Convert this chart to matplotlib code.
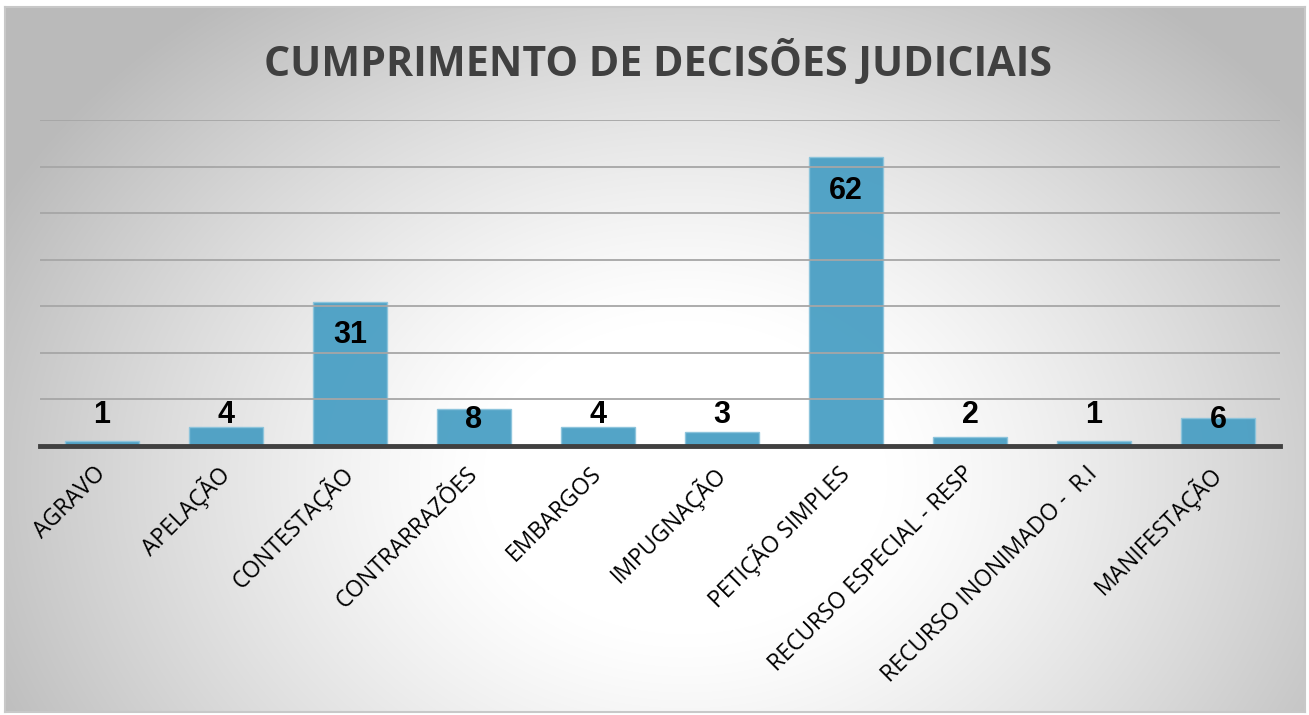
import numpy as np
import matplotlib
matplotlib.use("Agg")
import matplotlib.pyplot as plt
from matplotlib import font_manager as fm

categories = ["AGRAVO", "APELAÇÃO", "CONTESTAÇÃO", "CONTRARRAZÕES", "EMBARGOS",
              "IMPUGNAÇÃO", "PETIÇÃO SIMPLES", "RECURSO ESPECIAL - RESP",
              "RECURSO INONIMADO -  R.I", "MANIFESTAÇÃO"]
values = [1, 4, 31, 8, 4, 3, 62, 2, 1, 6]
title = "CUMPRIMENTO DE DECISÕES JUDICIAIS"

names = {f.name for f in fm.fontManager.ttflist}
narrow = "Liberation Sans Narrow" if "Liberation Sans Narrow" in names else "Liberation Sans"

W, H = 1309, 715
fig = plt.figure(figsize=(W / 100, H / 100), dpi=100)
fig.patch.set_facecolor("white")

# background radial gradient panel
bg = fig.add_axes([5 / W, 3 / H, 1300 / W, 705 / H])
yy, xx = np.mgrid[0:705, 0:1300]
cx, cy = 680, 470
r = np.sqrt(((xx - cx) / 720.0) ** 2 + ((yy - cy) / 560.0) ** 2)
t = np.clip((r - 0.28) / 0.72, 0, 1.4)
val = 1 - 0.24 * t ** 1.2
val = np.clip(val, 0.73, 1)
bg.imshow(np.dstack([val, val, val]), aspect="auto", extent=[0, 1, 0, 1], origin="upper")
bg.set_xticks([]); bg.set_yticks([])
for s in bg.spines.values():
    s.set_color("#c8c8c8"); s.set_linewidth(1.5)

ax = fig.add_axes([40 / W, 1 - 446 / H, 1240 / W, 326 / H])
ax.set_facecolor("none")
x = np.arange(len(categories))
ax.set_xlim(-0.5, len(categories) - 0.5)
ax.set_ylim(0, 70)
ax.set_yticks(np.arange(0, 71, 10))
ax.yaxis.grid(True, color="#a6a6a6", linewidth=1.3, zorder=3)
ax.set_axisbelow(False)
ax.bar(x, values, width=0.6, color="#4a9fc4", alpha=0.95, edgecolor="#8cc4dc",
       linewidth=1.0, zorder=2)
ax.axhline(0, color="#404040", linewidth=3.5, zorder=4, clip_on=False)
for s in ax.spines.values():
    s.set_visible(False)
ax.tick_params(axis="y", left=False, labelleft=False)
ax.tick_params(axis="x", bottom=False, pad=14)
ax.set_xticks(x)
ax.set_xticklabels(categories, rotation=45, ha="right", va="center",
                   rotation_mode="anchor", fontsize=16.5, family="Open Sans",
                   color="black")

for xi, v in zip(x, values):
    if v > 8:
        ly = v - 7.2
    elif v > 5:
        ly = 5.6
    else:
        ly = 6.6
    ax.text(xi, ly, str(v), ha="center", va="center", fontsize=22,
            fontweight="bold", family=narrow, color="black", zorder=5)

fig.text(658 / W, 1 - 63 / H, title, ha="center", va="center", fontsize=29.6,
         fontweight="bold", family="Open Sans", color="#404040")

fig.savefig("out.png", dpi=100)
